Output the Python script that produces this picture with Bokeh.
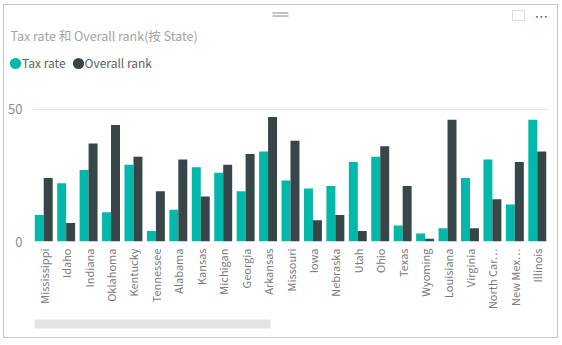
from math import pi
from bokeh.plotting import figure
from bokeh.layouts import column, row
from bokeh.models import (FactorRange, Range1d, FixedTicker, Legend, LegendItem,
                          Label, BoxAnnotation, ColumnDataSource)
from bokeh.transform import dodge
from bokeh.embed import file_html
from bokeh.resources import INLINE

states = ["Mississippi", "Idaho", "Indiana", "Oklahoma", "Kentucky", "Tennessee",
          "Alabama", "Kansas", "Michigan", "Georgia", "Arkansas", "Missouri", "Iowa",
          "Nebraska", "Utah", "Ohio", "Texas", "Wyoming", "Louisiana", "Virginia",
          "North Car…", "New Mex…", "Illinois"]
tax_rate = [10, 22, 27, 11, 29, 4, 12, 28, 26, 19, 34, 23, 20, 21, 30, 32, 6, 3, 5, 24, 31, 14, 46]
overall_rank = [24, 7, 37, 44, 32, 19, 31, 17, 29, 33, 47, 38, 8, 10, 4, 36, 21, 1, 46, 5, 16, 30, 34]
y_ticks = [0, 50]
series_names = ["Tax rate", "Overall rank"]
title_text = "Tax rate 和 Overall rank(按 State)"

TEAL = "#01B8AA"
DARK = "#374649"
FONT = "Noto Sans CJK SC"
W = 553


def screen_box(**kw):
    return BoxAnnotation(left_units="screen", right_units="screen",
                         top_units="screen", bottom_units="screen", **kw)


# ---------- header: title + legend ----------
head = figure(width=W, height=93, x_range=Range1d(0, 1), y_range=Range1d(0, 1),
              x_axis_type=None, y_axis_type=None, output_backend="svg",
              toolbar_location=None, min_border=0)
head.outline_line_color = None
head.grid.grid_line_color = None
head.add_layout(Label(x=6, y=63, x_units="screen", y_units="screen", text=title_text,
                      text_font=FONT, text_font_size="12.5px", text_color="#a3a3a3",
                      text_baseline="middle"))
# legend proxies (kept below the visible range; only their legend glyphs show)
r1 = head.ellipse(x=[0.5], y=[-5], width=11, height=11, width_units="screen",
                  height_units="screen", fill_color=TEAL, line_color=None)
r2 = head.ellipse(x=[0.5], y=[-5], width=11, height=11, width_units="screen",
                  height_units="screen", fill_color=DARK, line_color=None)
legend = Legend(items=[LegendItem(label=series_names[0], renderers=[r1]),
                       LegendItem(label=series_names[1], renderers=[r2])],
                orientation="horizontal", location=(4, 27),
                glyph_width=14, glyph_height=14, label_standoff=0, spacing=5,
                padding=0, margin=0, border_line_color=None, background_fill_alpha=0,
                label_text_font=FONT, label_text_font_size="12px",
                label_text_color="#5f5f5f", label_height=14)
head.add_layout(legend, "center")
# visual chrome: menu dots, focus icon, drag handle
head.add_layout(Label(x=537, y=83, x_units="screen", y_units="screen", text="⋯",
                      text_font="DejaVu Sans", text_font_size="14px", text_color="#555555",
                      text_align="center", text_baseline="middle"))
head.add_layout(screen_box(left=508, right=520, top=88, bottom=78,
                           fill_alpha=0, line_color="#8a8a8a", line_width=1))
head.add_layout(screen_box(left=268, right=284, top=86, bottom=85,
                           fill_color="#888888", fill_alpha=1, line_color=None))
head.add_layout(screen_box(left=268, right=284, top=83, bottom=82,
                           fill_color="#888888", fill_alpha=1, line_color=None))

# ---------- main chart ----------
src = ColumnDataSource(dict(state=states, tax=tax_rate, rank=overall_rank))
p = figure(frame_width=516, frame_height=143,
           x_range=FactorRange(factors=states, range_padding=0),
           y_range=Range1d(0, 54), output_backend="svg", toolbar_location=None,
           min_border_left=28, min_border_right=9, min_border_top=0, min_border_bottom=71)
p.outline_line_color = None

p.vbar(x=dodge("state", -0.2, range=p.x_range), top="tax", width=0.4, source=src,
       fill_color=TEAL, line_color=None)
p.vbar(x=dodge("state", 0.2, range=p.x_range), top="rank", width=0.4, source=src,
       fill_color=DARK, line_color=None)

p.yaxis.ticker = FixedTicker(ticks=y_ticks)
p.yaxis.axis_line_color = None
p.yaxis.major_tick_line_color = None
p.yaxis.major_tick_out = 0
p.yaxis.major_tick_in = 0
p.yaxis.minor_tick_line_color = None
p.yaxis.major_label_standoff = 10
p.yaxis.major_label_text_color = "#8c8c8c"
p.yaxis.major_label_text_font = FONT
p.yaxis.major_label_text_font_size = "13px"

p.xaxis.axis_line_color = None
p.xaxis.major_tick_line_color = None
p.xaxis.major_tick_out = 0
p.xaxis.major_tick_in = 0
p.xaxis.major_label_orientation = pi / 2
p.xaxis.major_label_standoff = 7
p.xaxis.major_label_text_color = "#7a7a7a"
p.xaxis.major_label_text_font = FONT
p.xaxis.major_label_text_font_size = "11px"

p.xgrid.grid_line_color = None
p.ygrid.ticker = FixedTicker(ticks=y_ticks)
p.ygrid.grid_line_color = "#e6e6e6"

# ---------- footer: scrollbar ----------
foot = figure(width=W, height=25, x_range=Range1d(0, 1), y_range=Range1d(0, 1),
              x_axis_type=None, y_axis_type=None, output_backend="svg",
              toolbar_location=None, min_border_left=28, min_border_right=9,
              min_border_top=0, min_border_bottom=0)
foot.outline_line_color = None
foot.grid.grid_line_color = None
foot.add_layout(screen_box(left=2, right=238, top=18, bottom=9,
                           fill_color="#e4e4e4", fill_alpha=1, line_color=None))

layout = column(row(head), p, foot, spacing=0, margin=(4, 0, 0, 3),
                styles={"border": "1px solid #c6c6c6"})

open("out.html", "w").write(file_html(layout, INLINE))
